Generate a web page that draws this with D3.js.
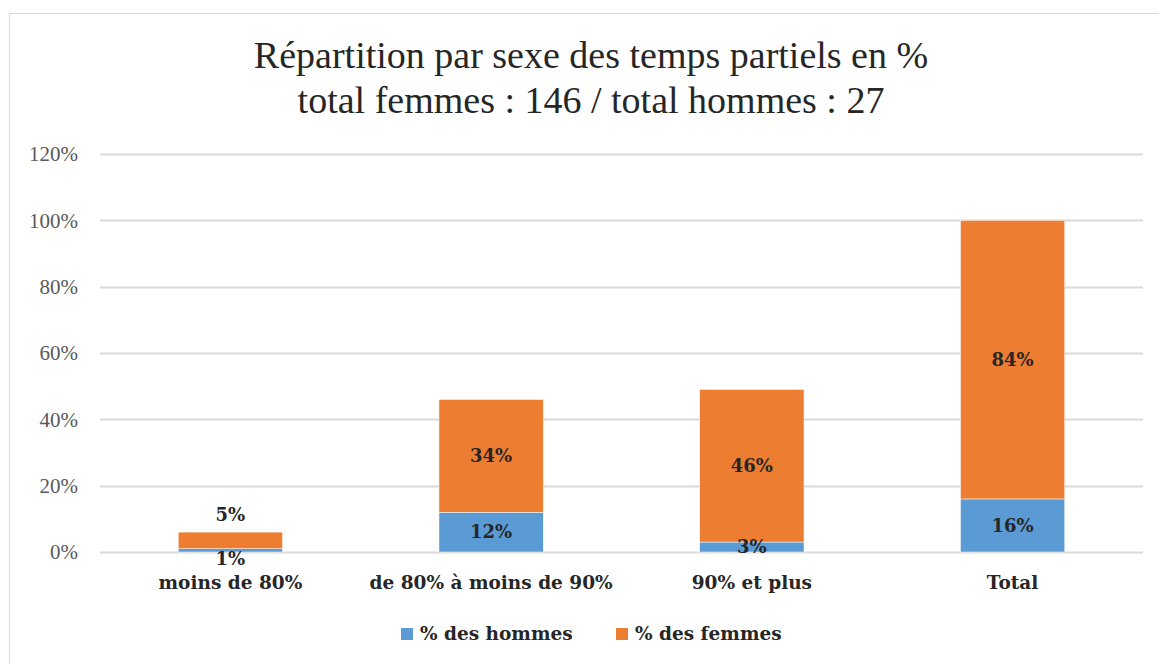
<!DOCTYPE html>
<html>
<head>
<meta charset="utf-8">
<script src="https://cdn.jsdelivr.net/npm/d3@7"></script>
<style>
  body { margin: 0; background: #fff; }
  text { font-family: "Liberation Serif", "DejaVu Serif", serif; }
  .bold { font-family: "DejaVu Serif", serif; font-weight: bold; }
</style>
</head>
<body>
<div id="chart"></div>
<script>
// Data
const categories = ["moins de 80%", "de 80% à moins de 90%", "90% et plus", "Total"];
const hommes = [1, 12, 3, 16];
const femmes = [5, 34, 46, 84];
const seriesNames = ["% des hommes", "% des femmes"];
const yTicks = [0, 20, 40, 60, 80, 100, 120];
const titleLines = ["Répartition par sexe des temps partiels en %", "total femmes : 146 / total hommes : 27"];

const colors = ["#5B9BD5", "#ED7D31"];

const W = 1159, H = 664;
const margin = { top: 154, right: 16, bottom: 112, left: 100 };
const width = W - margin.left - margin.right,
      height = H - margin.top - margin.bottom;

const svg = d3.select("#chart").append("svg")
    .attr("width", W)
    .attr("height", H);

// chart frame
svg.append("rect")
    .attr("x", 9.5).attr("y", 13.5)
    .attr("width", W).attr("height", H)
    .attr("fill", "none")
    .attr("stroke", "#d9d9d9");

// title
svg.append("text")
    .attr("text-anchor", "middle")
    .attr("fill", "#262626")
    .style("font-size", "38px")
    .selectAll("tspan")
    .data(titleLines)
  .enter().append("tspan")
    .attr("x", 591)
    .attr("y", (d, i) => 68 + i * 45)
    .text(d => d);

const g = svg.append("g")
    .attr("transform", "translate(" + margin.left + "," + margin.top + ")");

const x = d3.scaleBand()
    .domain(categories)
    .range([0, width])
    .paddingInner(0.6)
    .paddingOuter(0.3);

const y = d3.scaleLinear()
    .domain([0, 120])
    .range([height, 0]);

// gridlines
g.selectAll("line.grid")
    .data(yTicks)
  .enter().append("line")
    .attr("class", "grid")
    .attr("x1", 0).attr("x2", width)
    .attr("y1", d => Math.round(y(d)) + 0.5)
    .attr("y2", d => Math.round(y(d)) + 0.5)
    .attr("stroke", "#d9d9d9")
    .attr("stroke-width", 2);

// y axis labels
const yAxis = g.append("g")
    .call(d3.axisLeft(y).tickValues(yTicks).tickFormat(d => d + "%").tickSize(0).tickPadding(22));
yAxis.select(".domain").remove();
yAxis.selectAll("text")
    .attr("fill", "#595959")
    .style("font-size", "21px")
    .style("font-family", "'Liberation Serif', serif");

// stacked data
const table = categories.map((c, i) => ({ cat: c, h: hommes[i], f: femmes[i] }));
const stack = d3.stack().keys(["h", "f"]);
const series = stack(table);

const layer = g.selectAll("g.layer")
    .data(series)
  .enter().append("g")
    .attr("class", "layer")
    .attr("fill", (d, i) => colors[i]);

layer.selectAll("rect")
    .data(d => d)
  .enter().append("rect")
    .attr("x", d => x(d.data.cat))
    .attr("y", d => y(d[1]))
    .attr("width", x.bandwidth())
    .attr("height", d => y(d[0]) - y(d[1]))
    .attr("stroke", "#fff")
    .attr("stroke-width", 0.5);

// data labels
series.forEach((s, si) => {
  g.selectAll("text.lbl" + si)
    .data(s)
  .enter().append("text")
    .attr("class", "bold lbl" + si)
    .attr("x", d => x(d.data.cat) + x.bandwidth() / 2)
    .attr("y", d => {
      const v = d[1] - d[0];
      const total = d.data.h + d.data.f;
      if (si === 0 && v < 2) return y(0) + 7;         // tiny segment: label under the baseline
      if (si === 1 && total < 10) return y(d[1]) - 17; // short bar: label above
      return (y(d[0]) + y(d[1])) / 2;
    })
    .attr("dy", "0.35em")
    .attr("text-anchor", "middle")
    .attr("fill", "#262626")
    .style("font-size", "18px")
    .text(d => (d[1] - d[0]) + "%");
});

// category labels
g.selectAll("text.cat")
    .data(categories)
  .enter().append("text")
    .attr("class", "bold cat")
    .attr("x", d => x(d) + x.bandwidth() / 2)
    .attr("y", height + 37)
    .attr("text-anchor", "middle")
    .attr("fill", "#262626")
    .style("font-size", "18.5px")
    .text(d => d);

// legend
const legendX = [401, 616];
const legend = svg.selectAll("g.legend")
    .data(seriesNames)
  .enter().append("g")
    .attr("class", "legend")
    .attr("transform", (d, i) => "translate(" + legendX[i] + ",634)");

legend.append("rect")
    .attr("x", 0).attr("y", -6)
    .attr("width", 12).attr("height", 12)
    .attr("fill", (d, i) => colors[i]);

legend.append("text")
    .attr("class", "bold")
    .attr("x", 19)
    .attr("dy", "0.35em")
    .attr("fill", "#262626")
    .style("font-size", "18.5px")
    .text(d => d);
</script>
</body>
</html>
